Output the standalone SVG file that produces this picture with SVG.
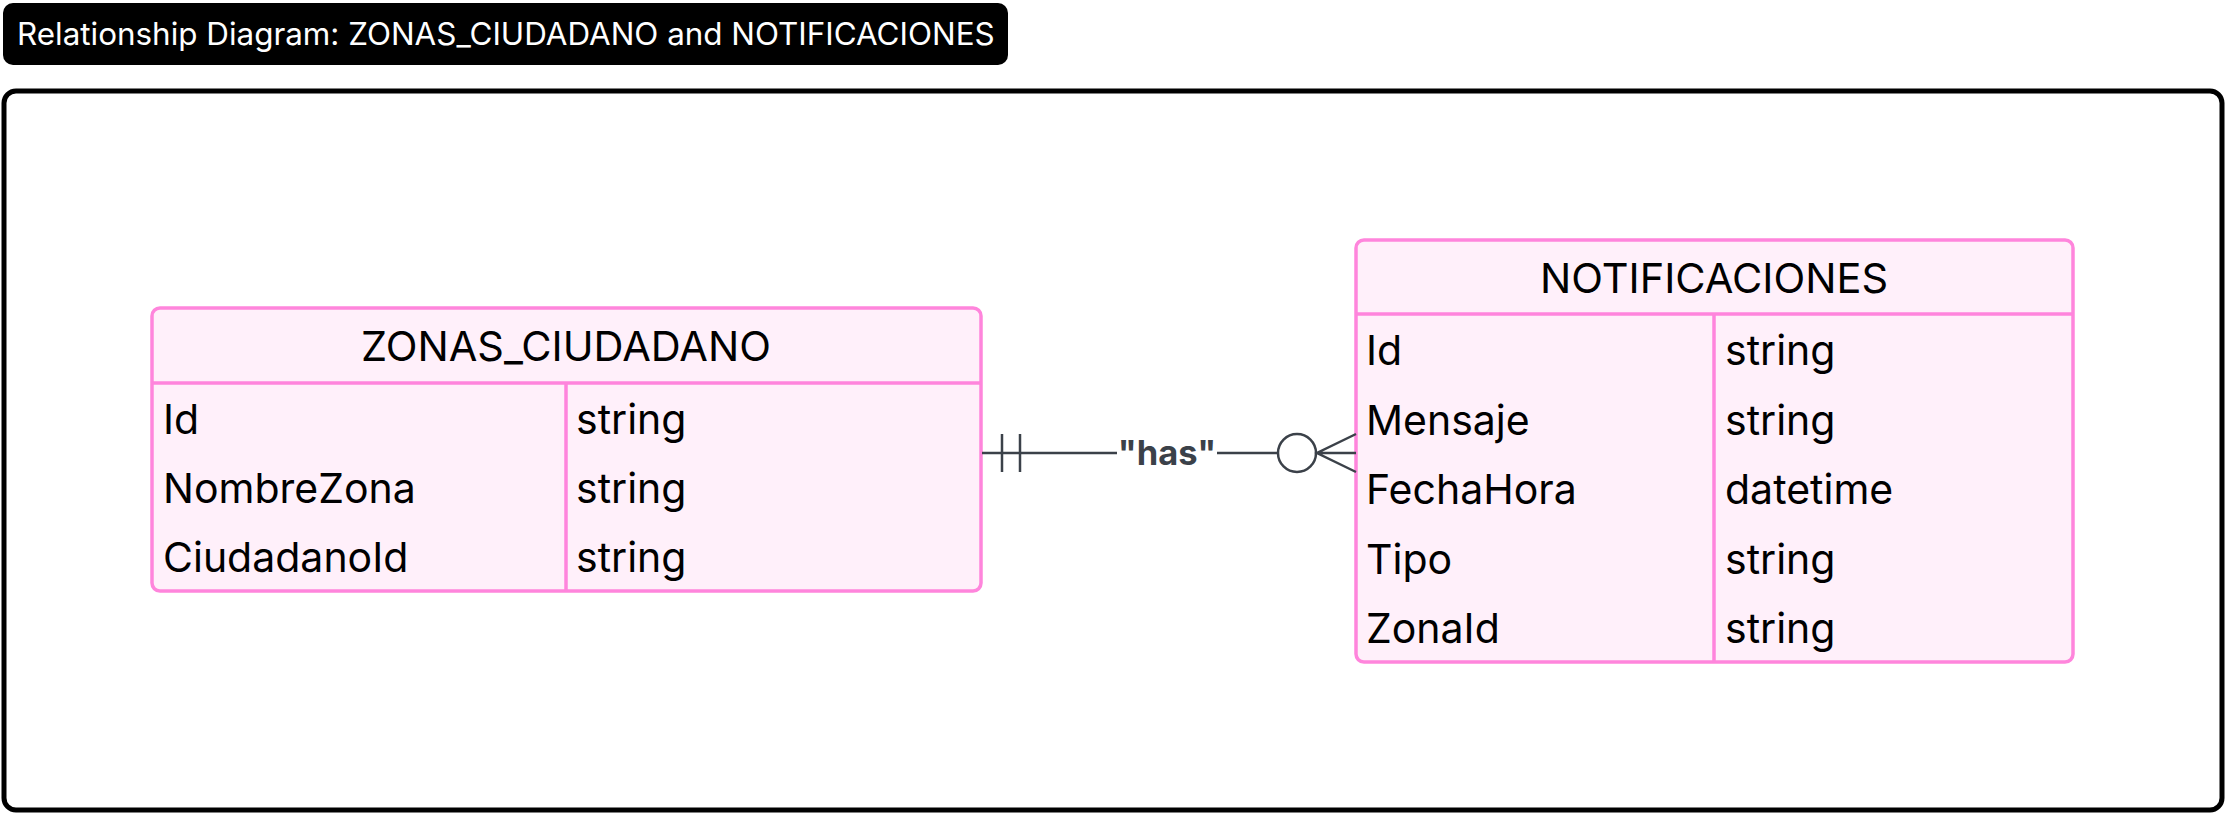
<svg xmlns="http://www.w3.org/2000/svg" width="2226" height="814" viewBox="0 0 2226 814">
<style>
.ent{fill:#fff0fa;stroke:#ff85dc;stroke-width:3.5}
.div{stroke:#ff85dc;stroke-width:3.5;fill:none}
.t{font-family:Inter,"Noto Sans",sans-serif;font-size:41px;fill:#000}
.h{font-family:Inter,"Noto Sans",sans-serif;font-size:41.5px;fill:#000;text-anchor:middle}
.c{stroke:#3b4149;stroke-width:2.5;fill:none}
.lbl{font-family:Inter,"Noto Sans",sans-serif;font-size:34.5px;font-weight:bold;fill:#3b4149;text-anchor:middle}
</style>
<rect width="2226" height="814" fill="#fff"/>
<g id="title">
<rect x="3" y="3" width="1005" height="62" rx="10" fill="#000"/>
<text x="17" y="45" font-family="Inter,'Noto Sans',sans-serif" font-size="31.4" fill="#fff">Relationship Diagram: ZONAS_CIUDADANO and NOTIFICACIONES</text>
</g>
<g id="frame">
<rect x="4" y="91" width="2218" height="719" rx="12" fill="none" stroke="#000" stroke-width="5"/>
</g>
<g id="ZONAS_CIUDADANO">
<rect class="ent" x="152" y="308" width="829" height="283" rx="8"/>
<line class="div" x1="152" y1="383" x2="981" y2="383"/>
<line class="div" x1="566" y1="383" x2="566" y2="591"/>
<text class="h" x="566" y="361">ZONAS_CIUDADANO</text>
<text class="t" x="163" y="434">Id</text>
<text class="t" x="576" y="434">string</text>
<text class="t" x="163" y="503">NombreZona</text>
<text class="t" x="576" y="503">string</text>
<text class="t" x="163" y="572">CiudadanoId</text>
<text class="t" x="576" y="572">string</text>
</g>
<g id="NOTIFICACIONES">
<rect class="ent" x="1356" y="240" width="717" height="422" rx="8"/>
<line class="div" x1="1356" y1="314" x2="2073" y2="314"/>
<line class="div" x1="1714" y1="314" x2="1714" y2="662"/>
<text class="h" x="1714" y="293">NOTIFICACIONES</text>
<text class="t" x="1366" y="365">Id</text>
<text class="t" x="1725" y="365">string</text>
<text class="t" x="1366" y="435">Mensaje</text>
<text class="t" x="1725" y="435">string</text>
<text class="t" x="1366" y="504">FechaHora</text>
<text class="t" x="1725" y="504">datetime</text>
<text class="t" x="1366" y="574">Tipo</text>
<text class="t" x="1725" y="574">string</text>
<text class="t" x="1366" y="643">ZonaId</text>
<text class="t" x="1725" y="643">string</text>
</g>
<g id="connectors">
<line class="c" x1="982" y1="453" x2="1117" y2="453"/>
<line class="c" x1="1217" y1="453" x2="1278" y2="453"/>
<line class="c" x1="1002" y1="434" x2="1002" y2="472"/>
<line class="c" x1="1020" y1="434" x2="1020" y2="472"/>
<circle class="c" cx="1297" cy="453" r="19"/>
<path class="c" d="M1356 434 L1317 453 L1356 472 M1317 453 L1356 453"/>
<text class="lbl" x="1167" y="465">"has"</text>
</g>
</svg>
